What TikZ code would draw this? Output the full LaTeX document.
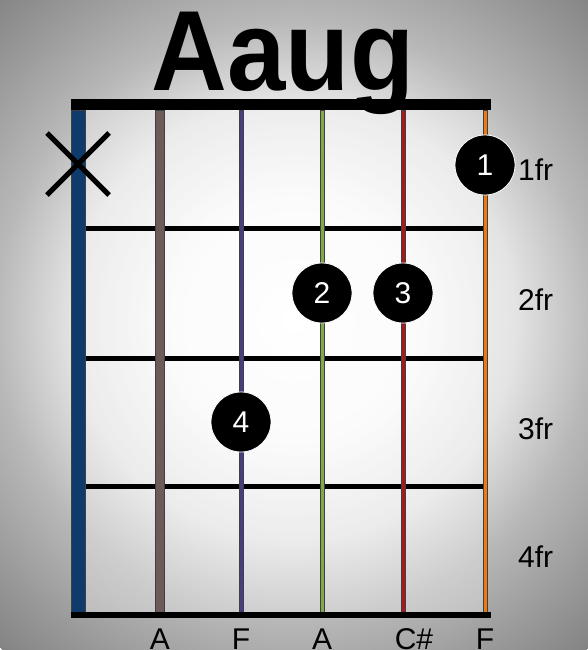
\documentclass[tikz,border=0pt]{standalone}
\usepackage{fontspec}
\setmainfont{Liberation Sans}
\definecolor{bgA}{HTML}{FFFFFF}
\definecolor{bgB}{HTML}{FAFAFA}
\definecolor{bgC}{HTML}{E4E4E4}
\definecolor{bgD}{HTML}{B8B8B8}
\definecolor{bgE}{HTML}{9A9A9A}
\definecolor{bgF}{HTML}{848484}
\definecolor{sBlue}{HTML}{0E3A6C}
\definecolor{sBrown}{HTML}{6C5B58}
\definecolor{sPurple}{HTML}{463E82}
\definecolor{sGreen}{HTML}{7FAA48}
\definecolor{sRed}{HTML}{A8181C}
\definecolor{sOrange}{HTML}{EC7A12}
\pgfdeclareradialshading{bgshade}{\pgfpoint{0bp}{0bp}}{color(0bp)=(bgA); color(20bp)=(bgB); color(36bp)=(bgC); color(49bp)=(bgD); color(62bp)=(bgE); color(72bp)=(bgF)}
\tikzset{
  fretline/.style={line width=5pt, black},
  strg/.style={draw=black!75, line width=0.8pt},
  dot/.style={circle, fill=black, draw=white, line width=0.8pt, minimum size=60pt, inner sep=0pt, text=white, font=\fontsize{30}{30}\selectfont},
  frlab/.style={anchor=west, inner sep=0pt, font=\fontsize{30}{30}\selectfont},
  notelab/.style={anchor=base, inner sep=0pt, font=\fontsize{30}{30}\selectfont},
}
\begin{document}
\begin{tikzpicture}[x=1pt,y=-1pt]
\useasboundingbox (0,0) rectangle (588,650);
\begin{scope}
\clip (0,0) rectangle (588,650);
\pgftransformshift{\pgfpointxy{294}{320}}
\pgftransformscale{6.088}
\pgflowlevelsynccm
\pgfuseshading{bgshade}
\end{scope}
% fretboard lighter area
\fill[white, opacity=0.3] (85,110) rectangle (485,612);
% frets
\draw[fretline] (85,228.5) -- (485,228.5);
\draw[fretline] (85,358) -- (485,358);
\draw[fretline] (85,486.5) -- (485,486.5);
% strings
\filldraw[strg, fill=sBlue] (71.5,110) rectangle (85,612);
\filldraw[strg, fill=sBrown] (155.5,110) rectangle (164.5,612);
\filldraw[strg, fill=sPurple] (239,110) rectangle (243,612);
\filldraw[strg, fill=sGreen] (320,110) rectangle (324,612);
\filldraw[strg, fill=sRed] (401,110) rectangle (405,612);
\filldraw[strg, fill=sOrange] (483,110) rectangle (487.5,612);
% nut and bottom bar
\fill[black] (70.5,99.5) rectangle (491,110.5);
\fill[black] (70.5,612) rectangle (491,618);
% title
\node[anchor=base, inner sep=0pt, xscale=0.92, font=\fontsize{114}{114}\selectfont\bfseries] (title) at (283,91) {Aaug};
% muted string
\draw[line width=5pt] (47,133) -- (109,195);
\draw[line width=5pt] (47,195) -- (109,133);
% finger dots
\node[dot] (d1) at (485,165) {1};
\node[dot] (d2) at (322,293) {2};
\node[dot] (d3) at (403,293) {3};
\node[dot] (d4) at (241,422) {4};
% fret labels
\node[frlab] (f1) at (518,170) {1fr};
\node[frlab] (f2) at (518,300) {2fr};
\node[frlab] (f3) at (518,429) {3fr};
\node[frlab] (f4) at (518,557) {4fr};
% note labels
\node[notelab] (n2) at (160,649) {A};
\node[notelab] (n3) at (241,649) {F};
\node[notelab] (n4) at (322,649) {A};
\node[notelab] (n5) at (414,649) {C\#};
\node[notelab] (n6) at (485,649) {F};
\end{tikzpicture}
\end{document}
